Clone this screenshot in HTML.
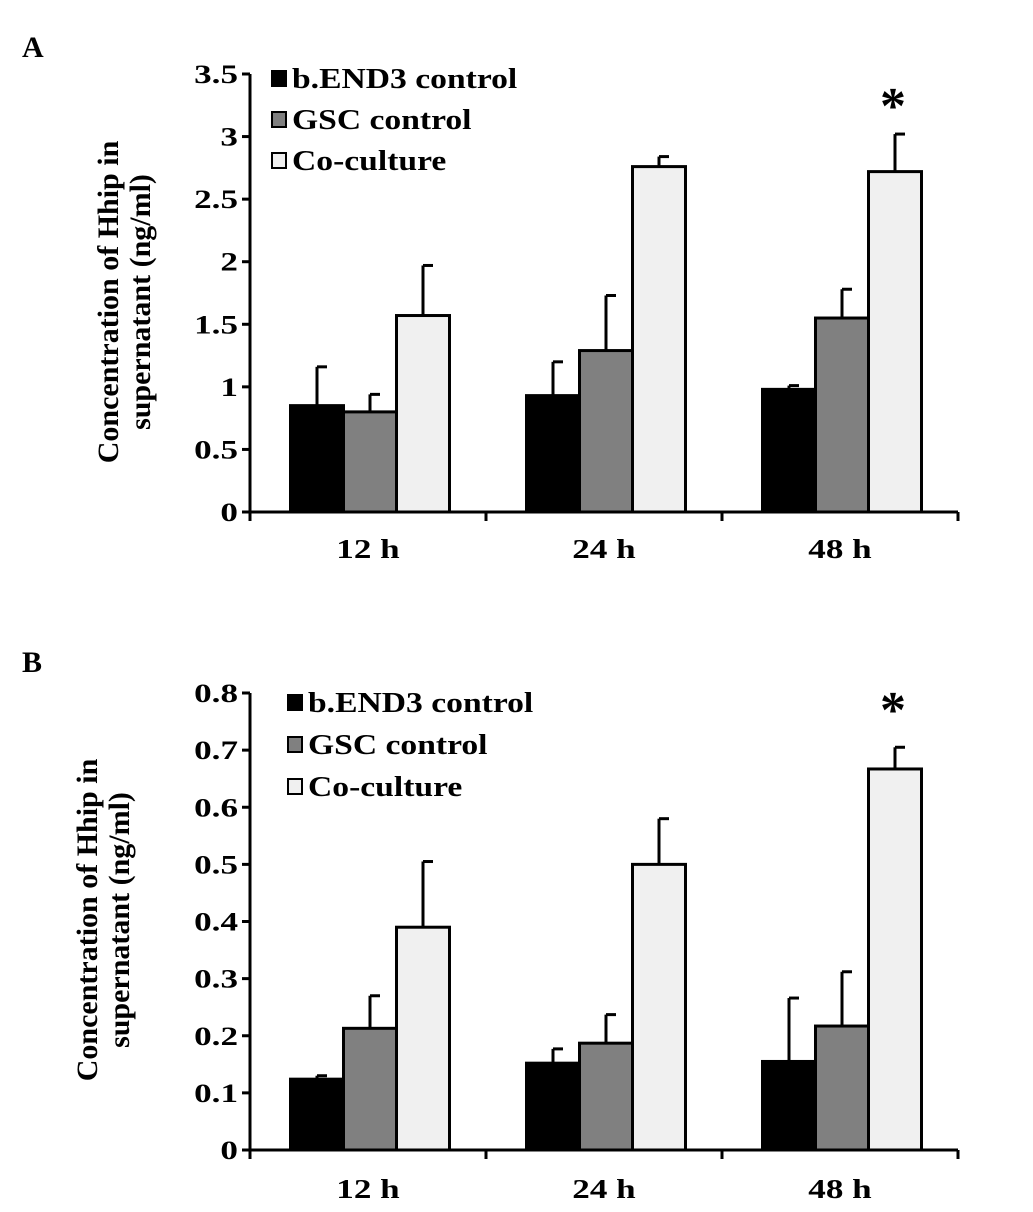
<!DOCTYPE html>
<html><head><meta charset="utf-8"><style>
html,body{margin:0;padding:0;background:#fff}
svg{display:block;font-family:"Liberation Serif",serif;font-weight:bold}
</style></head><body>
<svg id="s" width="1033" height="1212" xmlns="http://www.w3.org/2000/svg">
<text x="22" y="57" font-size="30">A</text>
<text x="22" y="672" font-size="30">B</text>
</svg>
<script>
const categories = ["12 h","24 h","48 h"];
const seriesNames = ["b.END3 control","GSC control","Co-culture"];
const seriesColors = ["#000000","#808080","#f0f0f0"];
const aValues = [[0.85,0.93,0.98],[0.80,1.29,1.55],[1.57,2.76,2.72]];
const aErrors = [[0.31,0.27,0.03],[0.14,0.44,0.23],[0.40,0.08,0.30]];
const aTicks = ["0","0.5","1","1.5","2","2.5","3","3.5"];
const bValues = [[0.124,0.152,0.155],[0.213,0.187,0.217],[0.39,0.50,0.667]];
const bErrors = [[0.006,0.025,0.111],[0.057,0.050,0.095],[0.115,0.080,0.038]];
const bTicks = ["0","0.1","0.2","0.3","0.4","0.5","0.6","0.7","0.8"];

const NS="http://www.w3.org/2000/svg", svg=document.getElementById('s');
function mk(tag,attrs,parent){const e=document.createElementNS(NS,tag);for(const k in attrs)e.setAttribute(k,attrs[k]);(parent||svg).appendChild(e);return e;}
function stretch(t,f){const w=t.getComputedTextLength();t.setAttribute('textLength',w*f);t.setAttribute('lengthAdjust','spacingAndGlyphs');}

function panel(p){
  const g=mk('g',{});
  
  
  const x0=250,x1=958,y0=p.y0,yTop=p.yTop,max=p.max;
  const y=v=>y0-(v/max)*(y0-yTop);
  const gw=(x1-x0)/categories.length, bw=53;
  p.ticks.forEach((t,i)=>{
    const v=max*i/(p.ticks.length-1), yy=y(v);
    const l=mk('line',{x1:242,x2:250,y1:yy,y2:yy,stroke:'#000','stroke-width':3},g);
    
    
    const tx=mk('text',{x:238,y:yy+9,'font-size':26,'text-anchor':'end'},g);
    tx.textContent=t;
    
    
    stretch(tx,1.35);
  });
  categories.forEach((c,ci)=>{
    const cx=x0+gw*(ci+0.5);
    seriesNames.forEach((s,si)=>{
      const bx=cx-bw*1.5+bw*si+2, v=p.values[si][ci], e=p.errors[si][ci];
      const ex=bx+bw/2, et=y(v+e);
      const el=mk('line',{x1:ex,x2:ex,y1:y(v),y2:et,stroke:'#000','stroke-width':3},g);
      
      
      const cp=mk('line',{x1:ex,x2:ex+10,y1:et,y2:et,stroke:'#000','stroke-width':3},g);
      
      
      const r=mk('rect',{x:bx,y:y(v),width:bw,height:y0-y(v),fill:seriesColors[si],stroke:'#000','stroke-width':3},g);
      
      
    });
    const lb=mk('text',{x:cx,y:y0+p.labOff,'font-size':27,'text-anchor':'middle'},g);
    lb.textContent=c;
    
    
    stretch(lb,1.3);
  });
  for(let i=0;i<=categories.length;i++){
    const xx=x0+gw*i;
    const l=mk('line',{x1:xx,x2:xx,y1:y0,y2:y0+9,stroke:'#000','stroke-width':3},g);
    
    
  }
  const ya=mk('line',{x1:x0,x2:x0,y1:yTop,y2:y0,stroke:'#000','stroke-width':3},g);
  
  
  const xa=mk('line',{x1:x0,x2:x1,y1:y0,y2:y0,stroke:'#000','stroke-width':3},g);
  
  
  const tt=mk('text',{transform:`translate(${p.titleX},${p.titleY}) rotate(-90)`,'font-size':30,'text-anchor':'middle'},g);
  
  
  const t1=mk('tspan',{x:0,y:0},tt); t1.textContent='Concentration of Hhip in';
  const t2=mk('tspan',{x:0,y:32},tt); t2.textContent='supernatant (ng/ml)';
  seriesNames.forEach((s,si)=>{
    const ly=p.legY+si*p.legStep;
    const r=mk('rect',{x:p.legX,y:ly-15,width:14,height:15,fill:seriesColors[si],stroke:'#000','stroke-width':2},g);
    
    
    const t=mk('text',{x:p.legX+20,y:ly+2,'font-size':28},g);
    t.textContent=s;
    
    
    stretch(t,1.2);
  });
  const st=mk('text',{x:p.starX,y:p.starY,'font-size':52,'text-anchor':'middle'},g);
  st.textContent='*';
  
  
}
panel({name:'panel-a-chart',y0:512,yTop:74,max:3.5,ticks:aTicks,values:aValues,errors:aErrors,labOff:46,titleX:118,titleY:302,legX:272,legY:86,legStep:41,starX:893,starY:123});
panel({name:'panel-b-chart',y0:1150,yTop:693,max:0.8,ticks:bTicks,values:bValues,errors:bErrors,labOff:48,titleX:97,titleY:920,legX:288,legY:710,legStep:42,starX:893,starY:727});
</script>
</body></html>
